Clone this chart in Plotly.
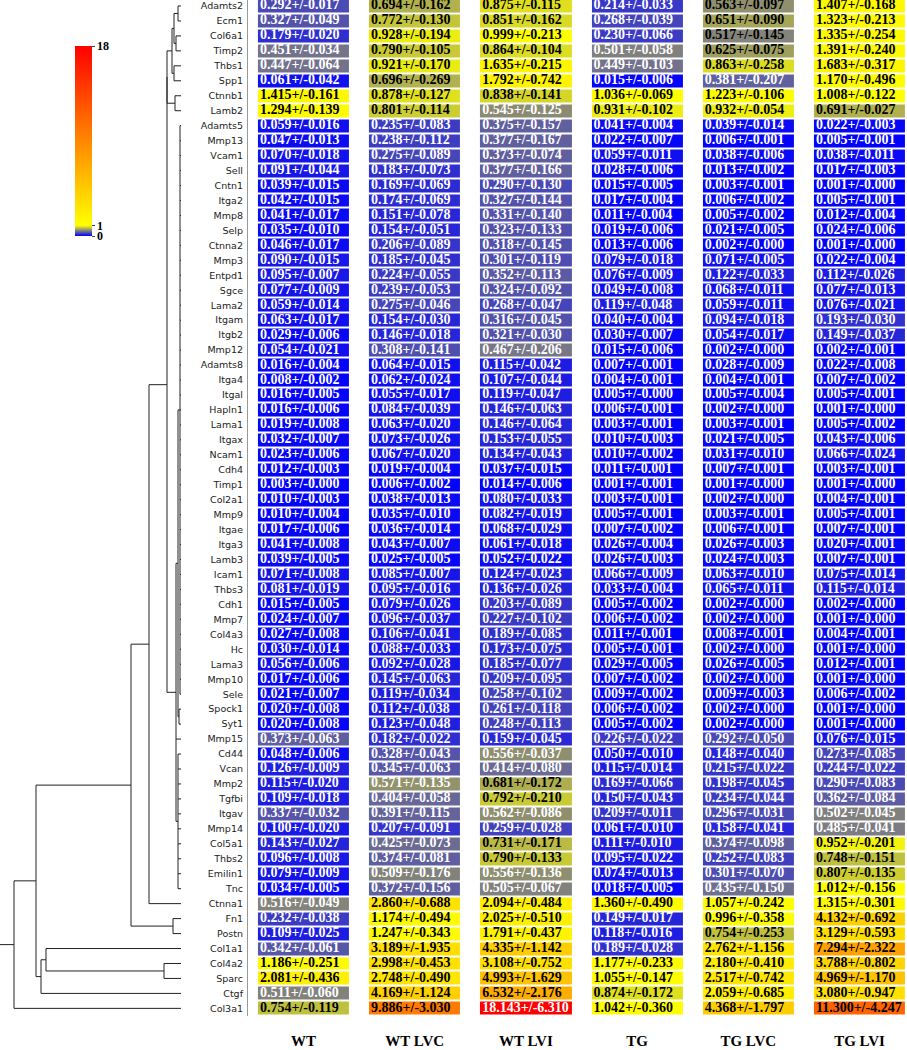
import plotly.graph_objects as go

genes = ["Adamts2","Ecm1","Col6a1","Timp2","Thbs1","Spp1","Ctnnb1","Lamb2","Adamts5","Mmp13",
         "Vcam1","Sell","Cntn1","Itga2","Mmp8","Selp","Ctnna2","Mmp3","Entpd1","Sgce",
         "Lama2","Itgam","Itgb2","Mmp12","Adamts8","Itga4","Itgal","Hapln1","Lama1","Itgax",
         "Ncam1","Cdh4","Timp1","Col2a1","Mmp9","Itgae","Itga3","Lamb3","Icam1","Thbs3",
         "Cdh1","Mmp7","Col4a3","Hc","Lama3","Mmp10","Sele","Spock1","Syt1","Mmp15",
         "Cd44","Vcan","Mmp2","Tgfbi","Itgav","Mmp14","Col5a1","Thbs2","Emilin1","Tnc",
         "Ctnna1","Fn1","Postn","Col1a1","Col4a2","Sparc","Ctgf","Col3a1"]
groups = ["WT", "WT LVC", "WT LVI", "TG", "TG LVC", "TG LVI"]

wt_mean = [0.292,0.327,0.179,0.451,0.447,0.061,1.415,1.294,0.059,0.047,0.070,0.091,0.039,0.042,0.041,0.035,0.046,0.090,0.095,0.077,
           0.059,0.063,0.029,0.054,0.016,0.008,0.016,0.016,0.019,0.032,0.023,0.012,0.003,0.010,0.010,0.017,0.041,0.039,0.071,0.081,
           0.015,0.024,0.027,0.030,0.056,0.017,0.021,0.020,0.020,0.373,0.048,0.126,0.115,0.109,0.337,0.100,0.143,0.096,0.079,0.034,
           0.516,0.232,0.109,0.342,1.186,2.081,0.511,0.754]
wt_sem = [0.017,0.049,0.020,0.034,0.064,0.042,0.161,0.139,0.016,0.013,0.018,0.044,0.015,0.015,0.017,0.010,0.017,0.015,0.007,0.009,
          0.014,0.017,0.006,0.021,0.004,0.002,0.005,0.006,0.008,0.007,0.006,0.003,0.000,0.003,0.004,0.006,0.008,0.005,0.008,0.019,
          0.005,0.007,0.008,0.014,0.006,0.006,0.007,0.008,0.008,0.063,0.006,0.009,0.020,0.018,0.032,0.020,0.027,0.008,0.009,0.005,
          0.049,0.038,0.025,0.061,0.251,0.436,0.060,0.119]
wtlvc_mean = [0.694,0.772,0.928,0.790,0.921,0.696,0.878,0.801,0.235,0.238,0.275,0.183,0.169,0.174,0.151,0.154,0.206,0.185,0.224,0.239,
              0.275,0.154,0.146,0.308,0.064,0.062,0.055,0.084,0.063,0.073,0.067,0.019,0.006,0.038,0.035,0.036,0.043,0.025,0.085,0.095,
              0.079,0.096,0.106,0.088,0.092,0.145,0.119,0.112,0.123,0.182,0.328,0.345,0.571,0.404,0.391,0.207,0.425,0.374,0.509,0.372,
              2.860,1.174,1.247,3.189,2.998,2.748,4.169,9.886]
wtlvc_sem = [0.162,0.130,0.194,0.105,0.170,0.269,0.127,0.114,0.083,0.112,0.089,0.073,0.069,0.069,0.078,0.051,0.089,0.045,0.055,0.053,
             0.046,0.030,0.018,0.141,0.015,0.024,0.017,0.039,0.020,0.026,0.020,0.004,0.002,0.013,0.010,0.014,0.007,0.005,0.007,0.016,
             0.026,0.037,0.041,0.033,0.028,0.063,0.034,0.038,0.048,0.022,0.043,0.063,0.135,0.058,0.115,0.091,0.073,0.081,0.176,0.156,
             0.688,0.494,0.343,1.935,0.453,0.490,1.124,3.030]
wtlvi_mean = [0.875,0.851,0.999,0.864,1.635,1.792,0.838,0.545,0.375,0.377,0.373,0.377,0.290,0.327,0.331,0.323,0.318,0.301,0.352,0.324,
              0.268,0.316,0.321,0.467,0.115,0.107,0.119,0.146,0.146,0.153,0.134,0.037,0.014,0.080,0.082,0.068,0.061,0.052,0.124,0.136,
              0.203,0.227,0.189,0.173,0.185,0.209,0.258,0.261,0.248,0.159,0.556,0.414,0.681,0.792,0.562,0.259,0.731,0.790,0.556,0.505,
              2.094,2.025,1.791,4.335,3.108,4.993,6.532,18.143]
wtlvi_sem = [0.115,0.162,0.213,0.104,0.215,0.742,0.141,0.125,0.157,0.167,0.074,0.166,0.130,0.144,0.140,0.133,0.145,0.119,0.113,0.092,
             0.047,0.045,0.030,0.206,0.042,0.044,0.047,0.063,0.064,0.055,0.043,0.015,0.006,0.033,0.019,0.029,0.018,0.022,0.023,0.026,
             0.089,0.102,0.085,0.075,0.077,0.095,0.102,0.118,0.113,0.045,0.037,0.080,0.172,0.210,0.086,0.028,0.171,0.133,0.136,0.067,
             0.484,0.510,0.437,1.142,0.752,1.629,2.176,6.310]
tg_mean = [0.214,0.268,0.230,0.501,0.449,0.015,1.036,0.931,0.041,0.022,0.059,0.028,0.015,0.017,0.011,0.019,0.013,0.079,0.076,0.049,
           0.119,0.040,0.030,0.015,0.007,0.004,0.005,0.006,0.003,0.010,0.010,0.011,0.001,0.003,0.005,0.007,0.026,0.026,0.066,0.033,
           0.005,0.006,0.011,0.005,0.029,0.007,0.009,0.006,0.005,0.226,0.050,0.115,0.169,0.150,0.209,0.061,0.111,0.095,0.074,0.018,
           1.360,0.149,0.118,0.189,1.177,1.055,0.874,1.042]
tg_sem = [0.033,0.039,0.066,0.058,0.103,0.006,0.069,0.102,0.004,0.007,0.011,0.006,0.005,0.004,0.004,0.006,0.006,0.018,0.009,0.008,
          0.048,0.004,0.007,0.006,0.001,0.001,0.000,0.001,0.001,0.003,0.002,0.001,0.001,0.001,0.001,0.002,0.004,0.003,0.009,0.004,
          0.002,0.002,0.001,0.001,0.005,0.002,0.002,0.002,0.002,0.022,0.010,0.014,0.066,0.043,0.011,0.010,0.010,0.022,0.013,0.005,
          0.490,0.017,0.016,0.028,0.233,0.147,0.172,0.360]
tglvc_mean = [0.563,0.651,0.517,0.625,0.863,0.381,1.223,0.932,0.039,0.006,0.038,0.013,0.003,0.006,0.005,0.021,0.002,0.071,0.122,0.068,
              0.059,0.094,0.054,0.002,0.028,0.004,0.005,0.002,0.003,0.021,0.031,0.007,0.001,0.002,0.003,0.006,0.026,0.024,0.063,0.065,
              0.002,0.002,0.008,0.002,0.026,0.002,0.009,0.002,0.002,0.292,0.148,0.215,0.198,0.234,0.296,0.158,0.374,0.252,0.301,0.435,
              1.057,0.996,0.754,2.762,2.180,2.517,2.059,4.368]
tglvc_sem = [0.097,0.090,0.145,0.075,0.258,0.207,0.106,0.054,0.014,0.001,0.006,0.002,0.001,0.002,0.002,0.005,0.000,0.005,0.033,0.011,
             0.011,0.018,0.017,0.000,0.009,0.001,0.004,0.000,0.001,0.005,0.010,0.001,0.000,0.000,0.001,0.001,0.003,0.003,0.010,0.011,
             0.000,0.000,0.001,0.000,0.005,0.000,0.003,0.000,0.000,0.050,0.040,0.022,0.045,0.044,0.031,0.041,0.098,0.083,0.070,0.150,
             0.242,0.358,0.253,1.156,0.410,0.742,0.685,1.797]
tglvi_mean = [1.407,1.323,1.335,1.391,1.683,1.170,1.008,0.691,0.022,0.005,0.038,0.017,0.001,0.005,0.012,0.024,0.001,0.022,0.112,0.077,
              0.076,0.193,0.149,0.002,0.022,0.007,0.005,0.001,0.005,0.043,0.066,0.003,0.001,0.004,0.005,0.007,0.020,0.007,0.075,0.115,
              0.002,0.001,0.004,0.001,0.012,0.001,0.006,0.001,0.001,0.076,0.273,0.244,0.290,0.362,0.502,0.485,0.952,0.748,0.807,1.012,
              1.315,4.132,3.129,7.294,3.788,4.969,3.080,11.300]
tglvi_sem = [0.168,0.213,0.254,0.240,0.317,0.496,0.122,0.027,0.003,0.001,0.011,0.003,0.000,0.001,0.004,0.006,0.000,0.004,0.026,0.013,
             0.021,0.030,0.037,0.001,0.008,0.002,0.001,0.000,0.002,0.006,0.024,0.001,0.000,0.001,0.001,0.001,0.001,0.001,0.014,0.014,
             0.000,0.000,0.001,0.000,0.001,0.000,0.002,0.000,0.000,0.015,0.085,0.022,0.083,0.084,0.045,0.041,0.201,0.151,0.135,0.156,
             0.301,0.692,0.593,2.322,0.802,1.170,0.947,4.247]

means = [wt_mean, wtlvc_mean, wtlvi_mean, tg_mean, tglvc_mean, tglvi_mean]
sems = [wt_sem, wtlvc_sem, wtlvi_sem, tg_sem, tglvc_sem, tglvi_sem]

# dendrogram: nodes (children, merge distance); ints are leaf rows, strings refer to earlier nodes
tree = {
    "a1": ([0, 1], 3), "a2": ([2, 3], 5), "a3": (["a1", "a2"], 7), "a4": ([4, 5], 7),
    "a5": (["a3", "a4"], 9), "a6": ([6, 7], 6), "A": (["a5", "a6"], 14),
    "b1": (list(range(8, 47)), 1), "b2": ([47, 48], 2), "b12": (["b1", "b2"], 3),
    "b3": (list(range(50, 60)), 3), "B": (["b12", 49, "b3"], 5),
    "AB": (["A", "B"], 14),
    "P0": (["AB", 60], 32),
    "fp": ([61, 62], 8), "P1": (["P0", "fp"], 50),
    "cs": ([64, 65], 17), "n3": ([63, "cs"], 135), "Q": (["n3", 66], 140),
    "X": (["P1", "Q"], 145),
    "root": (["X", 67], 167),
}

# ---------------- geometry ----------------
W, H = 907, 1050
MB = 34
PH = H - MB
x_left_px = 247.9
pitch = 111.2
xr_hi = -0.5 + (W - x_left_px) / pitch
dend_w = 181

lo, hi = 0.0, 18.0
cscale = [[0.0, "#0000ff"], [1.0 / 18.0, "#ffff00"], [1.0, "#ff0000"]]

z = [[means[c][r] for c in range(6)] for r in range(len(genes))]

fig = go.Figure()
fig.add_trace(go.Heatmap(
    z=z, x=list(range(6)), y=list(range(len(genes))),
    colorscale=cscale, zmin=lo, zmax=hi, xgap=20, ygap=2,
    hoverinfo="skip",
    colorbar=dict(
        x=75 / W, xanchor="left", y=1 - 141 / PH, yanchor="middle",
        len=190 / PH, lenmode="fraction", thickness=17, thicknessmode="pixels",
        xpad=0, ypad=0, outlinewidth=0,
        tickvals=[0, 1, 18], ticktext=["0", "1", "18"], ticks="outside", ticklen=3,
        tickfont=dict(family="Liberation Serif", size=12, color="black", weight="bold"),
    ),
))

thr = [0.6, 0.6, 0.6, 0.6, 0.5, 0.6]
text_off = -0.5 + 12 / pitch
for c in range(6):
    txt = [f"{m:.3f}+/-{s:.3f}" for m, s in zip(means[c], sems[c])]
    colors = ["black" if (thr[c] <= m < 15) else "white" for m in means[c]]
    fig.add_trace(go.Scatter(
        x=[c + text_off] * len(genes), y=list(range(len(genes))),
        mode="text", text=txt, textposition="middle right",
        textfont=dict(family="Liberation Serif", size=14, color=colors, weight="bold"),
        hoverinfo="skip", showlegend=False, cliponaxis=False,
    ))

# dendrogram lines
pos = {}
lx, ly = [], []
def place(n):
    if isinstance(n, int):
        return float(n), 0.0
    return pos[n]
for name, (children, h) in tree.items():
    pts = [place(ch) for ch in children]
    ys = [p[0] for p in pts]
    for (yy, hh) in pts:
        lx += [hh, h, None]
        ly += [yy, yy, None]
    lx += [h, h, None]
    ly += [min(ys), max(ys), None]
    pos[name] = ((min(ys) + max(ys)) / 2, h)
root_y, root_h = pos["root"]
lx += [root_h, dend_w, None]
ly += [root_y, root_y, None]

fig.add_trace(go.Scatter(x=lx, y=ly, mode="lines", line=dict(color="#222", width=1),
                         xaxis="x2", yaxis="y", hoverinfo="skip", showlegend=False))

fig.update_layout(
    width=W, height=H, margin=dict(l=0, r=0, t=0, b=MB),
    paper_bgcolor="white", plot_bgcolor="white", showlegend=False,
    xaxis=dict(domain=[x_left_px / W, 1.0], range=[-0.5, xr_hi], tickvals=list(range(6)),
               ticktext=groups, showgrid=False, zeroline=False, ticks="", ticklabelstandoff=14,
               tickfont=dict(family="Liberation Serif", size=15, color="black", weight="bold"),
               fixedrange=True),
    yaxis=dict(domain=[0, 1], range=[67.51, -0.40], tickvals=list(range(len(genes))), ticktext=genes,
               showgrid=False, zeroline=False, ticks="", showline=True, linecolor="#999", linewidth=1,
               tickfont=dict(family="DejaVu Sans", size=9.5, color="#222"), ticklabelstandoff=2,
               fixedrange=True),
    xaxis2=dict(domain=[0, dend_w / W], range=[dend_w, 0], anchor="y", visible=False, fixedrange=True),
)

fig.write_html("out.html", config={"displayModeBar": False},
               post_script="document.body.style.margin='0px';")
